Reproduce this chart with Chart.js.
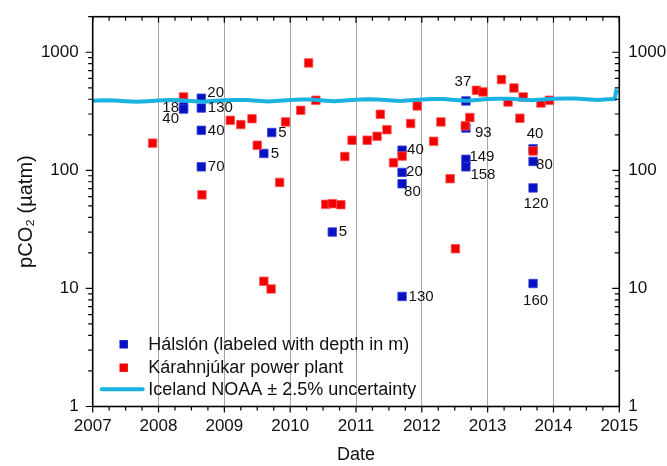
<!DOCTYPE html>
<html>
<head>
<meta charset="utf-8">
<script src="https://cdn.jsdelivr.net/npm/chart.js@4.4.1/dist/chart.umd.min.js"></script>
<style>
html,body{margin:0;padding:0;background:#ffffff;}
#wrap{width:667px;height:466px;}
</style>
</head>
<body>
<div id="wrap"><canvas id="c" width="667" height="466"></canvas></div>
<script>
// ---------------- data ----------------
const seriesNames = ['Hálslón (labeled with depth in m)', 'Kárahnjúkar power plant', 'Iceland NOAA ± 2.5% uncertainty'];

const halslonDates  = [2008.38, 2008.38, 2008.65, 2008.65, 2008.65, 2008.65, 2009.60, 2009.72, 2010.64,
                       2011.70, 2011.70, 2011.70, 2011.70, 2012.67, 2012.67, 2012.67, 2012.67,
                       2013.69, 2013.69, 2013.69, 2013.69];
const halslonValues = [345, 330, 408, 337, 218, 107, 139, 209, 30,
                       148, 96, 77, 8.55, 387, 228, 124, 107,
                       152, 119, 71, 11.0];
const halslonDepths = ['18', '40', '20', '130', '40', '70', '5', '5', '5',
                       '40', '20', '80', '130', '37', '93', '149', '158',
                       '40', '80', '120', '160'];

const plantDates  = [2007.91, 2008.38, 2008.66, 2009.09, 2009.25, 2009.42, 2009.50, 2009.60, 2009.71, 2009.84,
                     2009.93, 2010.16, 2010.28, 2010.39, 2010.54, 2010.64, 2010.77, 2010.83, 2010.94, 2011.17,
                     2011.32, 2011.37, 2011.47, 2011.57, 2011.70, 2011.83, 2011.93, 2012.18, 2012.29, 2012.43,
                     2012.51, 2012.66, 2012.73, 2012.83, 2012.93, 2013.21, 2013.31, 2013.40, 2013.49, 2013.54,
                     2013.69, 2013.81, 2013.94];
const plantValues = [170, 418, 62, 265, 244, 274, 163, 11.5, 9.9, 79,
                     257, 322, 812, 392, 51.5, 52.2, 51.2, 131, 180, 180,
                     194, 298, 221, 116, 132, 249, 351, 176, 257, 85,
                     21.7, 238, 280, 476, 461, 587, 379, 498, 276, 418,
                     146, 372, 392];

const noaaDates  = [2007.00, 2007.17, 2007.33, 2007.50, 2007.67, 2007.83,
                    2008.00, 2008.17, 2008.33, 2008.50, 2008.67, 2008.83,
                    2009.00, 2009.17, 2009.33, 2009.50, 2009.67, 2009.83,
                    2010.00, 2010.17, 2010.33, 2010.50, 2010.67, 2010.83,
                    2011.00, 2011.17, 2011.33, 2011.50, 2011.67, 2011.83,
                    2012.00, 2012.17, 2012.33, 2012.50, 2012.67, 2012.83,
                    2013.00, 2013.17, 2013.33, 2013.50, 2013.67, 2013.83,
                    2014.00, 2014.17, 2014.33, 2014.50, 2014.67, 2014.83,
                    2014.93, 2014.95, 2014.99];
const noaaValues = [389, 392, 391, 385, 380, 385,
                    391, 394, 393, 387, 381, 387,
                    392, 395, 395, 389, 383, 389,
                    394, 397, 397, 391, 385, 391,
                    396, 399, 398, 393, 387, 393,
                    398, 401, 401, 395, 389, 395,
                    401, 404, 403, 398, 392, 398,
                    403, 406, 405, 400, 394, 400,
                    402, 468, 460];

const xTickYears  = [2007, 2008, 2009, 2010, 2011, 2012, 2013, 2014, 2015];
const yTickLabels = [1, 10, 100, 1000];

// label placement (dx, dy, align) for each depth label — styling only
const depthLabelOffsets = [[-4.5,1,'right'],[-4.5,10,'right'],[6,-5.5,'left'],[6.5,0,'left'],[6.5,0,'left'],[6.5,0,'left'],
  [7,0,'left'],[6.5,0,'left'],[6.5,0,'left'],[5,0,'left'],[4,-0.5,'left'],[2,8,'left'],[6.5,0,'left'],
  [-3,-19,'center'],[9,5,'left'],[3.5,-2,'left'],[4.5,7.5,'left'],
  [2,-15,'center'],[3,3,'left'],[3,15.5,'center'],[2.5,17.5,'center']];

// ---------------- styles ----------------
const FONT = '"Liberation Sans", Arial, Helvetica, sans-serif';
const BLUE = '#0612C2';
const RED = '#F20000';
const CYAN = '#1AB2E0';

const toXY = (xs, ys) => xs.map((x, i) => ({x: x, y: ys[i]}));

const logTicks = (scale) => { scale.ticks = yTickLabels.map(v => ({value: v})); };

const depthLabels = {
  id: 'depthLabels',
  afterDatasetsDraw(chart) {
    const ctx = chart.ctx;
    const meta = chart.getDatasetMeta(0);
    ctx.save();
    ctx.font = '15px ' + FONT;
    ctx.fillStyle = '#111';
    ctx.textBaseline = 'middle';
    meta.data.forEach((pt, i) => {
      const o = depthLabelOffsets[i];
      ctx.textAlign = o[2];
      ctx.fillText(halslonDepths[i], pt.x + o[0], pt.y + o[1]);
    });
    ctx.restore();
  }
};

const frameAndLegend = {
  id: 'frameAndLegend',
  afterDraw(chart) {
    const {ctx, chartArea: a, scales} = chart;
    const xs = scales.x, ys = scales.y;
    ctx.save();
    // minor / major ticks
    ctx.strokeStyle = '#000';
    ctx.lineWidth = 1.2;
    ctx.beginPath();
    xTickYears.forEach((yr, i) => {
      const px = xs.getPixelForValue(yr);
      ctx.moveTo(px, a.bottom); ctx.lineTo(px, a.bottom + 6);
      ctx.moveTo(px, a.top); ctx.lineTo(px, a.top + 6);
      if (i < xTickYears.length - 1) {
        [0.25, 0.5, 0.75].forEach(q => {
          const p = xs.getPixelForValue(yr + q);
          ctx.moveTo(p, a.bottom); ctx.lineTo(p, a.bottom + 4);
          ctx.moveTo(p, a.top); ctx.lineTo(p, a.top + 4);
        });
      }
    });
    yTickLabels.forEach(d => {
      for (let m = 1; m <= 9; m++) {
        const v = d * m;
        if (v > ys.max) break;
        const py = ys.getPixelForValue(v);
        const L = m === 1 ? 7 : 4.5;
        ctx.moveTo(a.left - L, py); ctx.lineTo(a.left, py);
        ctx.moveTo(a.right - L, py); ctx.lineTo(a.right, py);
      }
    });
    ctx.stroke();
    // frame
    ctx.lineWidth = 1.6;
    ctx.strokeRect(a.left, a.top, a.right - a.left, a.bottom - a.top);

    // legend
    const mx = a.left + 31;
    const tx = a.left + 55.5;
    const rows = [a.bottom - 62.2, a.bottom - 38.8, a.bottom - 17.3];
    ctx.fillStyle = BLUE;
    ctx.fillRect(mx - 4.2, rows[0] - 4.2, 8.4, 8.4);
    ctx.fillStyle = RED;
    ctx.fillRect(mx - 4.2, rows[1] - 4.2, 8.4, 8.4);
    ctx.strokeStyle = CYAN;
    ctx.lineWidth = 4;
    ctx.lineCap = 'round';
    ctx.beginPath();
    ctx.moveTo(a.left + 9, rows[2]); ctx.lineTo(a.left + 50, rows[2]);
    ctx.stroke();
    ctx.fillStyle = '#111';
    ctx.font = '18px ' + FONT;
    ctx.textAlign = 'left';
    ctx.textBaseline = 'middle';
    seriesNames.forEach((n, i) => ctx.fillText(n, tx, rows[i] + 0.5));
    ctx.restore();
  }
};

new Chart(document.getElementById('c'), {
  type: 'scatter',
  data: {
    datasets: [
      {
        label: seriesNames[0],
        data: toXY(halslonDates, halslonValues),
        pointStyle: 'rect',
        pointRadius: 6,
        pointBorderWidth: 0.8,
        backgroundColor: BLUE,
        borderColor: '#3a44d8',
        order: 2
      },
      {
        label: seriesNames[1],
        data: toXY(plantDates, plantValues),
        pointStyle: 'rect',
        pointRadius: 6,
        pointBorderWidth: 0.8,
        backgroundColor: RED,
        borderColor: '#ff5050',
        order: 1
      },
      {
        label: seriesNames[2],
        data: toXY(noaaDates, noaaValues),
        showLine: true,
        pointRadius: 0,
        borderColor: CYAN,
        backgroundColor: CYAN,
        borderWidth: 4,
        tension: 0,
        fill: false,
        order: 0
      }
    ]
  },
  options: {
    responsive: false,
    animation: false,
    devicePixelRatio: 1,
    layout: {padding: {top: 16.7, left: 0, right: 0, bottom: 0}},
    plugins: {legend: {display: false}, tooltip: {enabled: false}, title: {display: false}},
    scales: {
      x: {
        type: 'linear',
        position: 'bottom',
        min: 2007, max: 2015,
        afterBuildTicks: (s) => { s.ticks = xTickYears.map(v => ({value: v})); },
        afterFit: (s) => { s.height = 59.5; s.paddingLeft = 0; s.paddingRight = 0; },
        ticks: {
          callback: (v) => String(v),
          font: {size: 17, family: FONT},
          color: '#111',
          padding: 10,
          maxRotation: 0
        },
        grid: {
          drawTicks: false,
          lineWidth: 1,
          color: (c) => (c.tick && (c.tick.value === 2007 || c.tick.value === 2015)) ? 'rgba(0,0,0,0)' : '#A6A6A6'
        },
        border: {display: false},
        title: {display: true, text: 'Date', font: {size: 18, family: FONT}, color: '#111', padding: {top: 0, bottom: 0}}
      },
      y: {
        type: 'logarithmic',
        position: 'left',
        min: 1, max: 2000,
        afterBuildTicks: logTicks,
        afterFit: (s) => { s.width = 92.7; s.paddingTop = 0; s.paddingBottom = 0; },
        ticks: {callback: (v) => String(v), font: {size: 17, family: FONT}, color: '#111', padding: 14},
        grid: {display: false, drawTicks: false},
        border: {display: false},
        title: {display: true, text: 'pCO₂ (µatm)', font: {size: 20, family: FONT}, color: '#111', padding: {top: 14, bottom: 0}}
      },
      y2: {
        type: 'logarithmic',
        position: 'right',
        min: 1, max: 2000,
        afterBuildTicks: logTicks,
        afterFit: (s) => { s.width = 47.7; s.paddingTop = 0; s.paddingBottom = 0; },
        ticks: {callback: (v) => String(v), font: {size: 17, family: FONT}, color: '#111', padding: 9},
        grid: {display: false, drawTicks: false},
        border: {display: false}
      }
    }
  },
  plugins: [depthLabels, frameAndLegend]
});
</script>
</body>
</html>
